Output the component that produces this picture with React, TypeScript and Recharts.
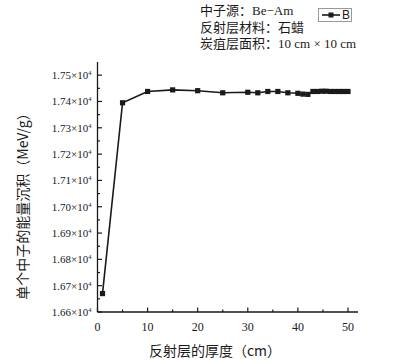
import React from 'react';
import { LineChart, Line, XAxis, YAxis } from 'recharts';

const thickness = [1, 5, 10, 15, 20, 25, 30, 32, 34, 36, 38, 40, 41, 42, 43, 43.9, 44.8, 45.6, 46.5, 47.4, 48.3, 49.1, 50];
const deposition = [1.667, 1.7395, 1.7438, 1.7444, 1.7441, 1.7433, 1.7435, 1.7433, 1.7438, 1.7438, 1.7433, 1.7431, 1.7428, 1.7427, 1.7438, 1.7438, 1.7439, 1.7439, 1.7438, 1.7438, 1.7438, 1.7438, 1.7438];
const xTicks = [0, 5, 10, 15, 20, 25, 30, 35, 40, 45, 50];
const yTicks = [1.66, 1.665, 1.67, 1.675, 1.68, 1.685, 1.69, 1.695, 1.70, 1.705, 1.71, 1.715, 1.72, 1.725, 1.73, 1.735, 1.74, 1.745, 1.75];
const seriesName = 'B';
const notes = ['中子源：Be−Am', '反射层材料：石蜡', '炭疽层面积：10 cm × 10 cm'];
const xTitle = '反射层的厚度（cm）';
const yTitle = '单个中子的能量沉积（MeV/g）';

const data = thickness.map((x, i) => ({ x, y: deposition[i] }));

const SERIF = '"Liberation Serif", "DejaVu Serif", "Noto Sans CJK SC", serif';
const CJK = '"Noto Sans CJK SC", "Liberation Serif", serif';
const INK = '#1a1a1a';

const SquareDot = (props: any) => {
  const { cx, cy } = props;
  if (cx == null || cy == null) return null;
  return <rect x={cx - 2.6} y={cy - 2.6} width={5.2} height={5.2} fill={INK} />;
};

const YTick = (props: any) => {
  const { x, y, payload } = props;
  const ax = x + 6;
  const v = payload.value as number;
  const major = Math.round(v * 1000) % 10 === 0;
  return (
    <g>
      <line x1={ax} x2={ax + (major ? 4.5 : 2.5)} y1={y} y2={y} stroke={INK} strokeWidth={1.2} />
      {major && (
        <text x={ax - 6} y={y} dy="0.35em" textAnchor="end" fontFamily={SERIF} fontSize={11} fill={INK}>
          {v.toFixed(2)}×10
          <tspan fontSize={6.5} dy={-4}>4</tspan>
        </text>
      )}
    </g>
  );
};

const XTick = (props: any) => {
  const { x, y, payload } = props;
  const ay = y - 10;
  const v = payload.value as number;
  const major = v % 10 === 0;
  return (
    <g>
      <line x1={x} x2={x} y1={ay} y2={ay - (major ? 4.5 : 2.5)} stroke={INK} strokeWidth={1.2} />
      {major && (
        <text x={x} y={y} dy="0.71em" textAnchor="middle" fontFamily={SERIF} fontSize={12} fill={INK}>
          {v}
        </text>
      )}
    </g>
  );
};

export default function App() {
  return (
    <div style={{ position: 'absolute', left: 0, top: 0, width: 404, height: 361, background: '#fff' }}>
      <LineChart width={404} height={361} data={data} margin={{ top: 62, right: 46, bottom: 0, left: 0 }}>
        <XAxis
          type="number"
          dataKey="x"
          domain={[0, 52]}
          ticks={xTicks}
          interval={0}
          height={49}
          tickSize={0}
          tickMargin={10}
          tick={<XTick />}
          axisLine={{ stroke: INK, strokeWidth: 1.3 }}
          tickLine={false}
        />
        <YAxis
          type="number"
          domain={[1.66, 1.755]}
          ticks={yTicks}
          interval={0}
          width={97.5}
          tickSize={0}
          tickMargin={6}
          tick={<YTick />}
          axisLine={{ stroke: INK, strokeWidth: 1.3 }}
          tickLine={false}
          allowDataOverflow
        />
        <Line
          type="linear"
          dataKey="y"
          name={seriesName}
          stroke={INK}
          strokeWidth={1.6}
          dot={<SquareDot />}
          activeDot={false}
          isAnimationActive={false}
        />
      </LineChart>

      {notes.map((t, i) => (
        <div
          key={i}
          style={{
            position: 'absolute',
            left: 200,
            top: 2 + i * 16.5,
            fontFamily: SERIF,
            fontSize: 13,
            lineHeight: '17px',
            color: INK,
            whiteSpace: 'nowrap',
          }}
        >
          {t}
        </div>
      ))}

      <div
        style={{
          position: 'absolute',
          left: 318,
          top: 8,
          width: 34,
          height: 14,
          border: '1px solid #999',
          boxSizing: 'border-box',
        }}
      >
        <svg width={34} height={14} style={{ position: 'absolute', left: -1, top: -1 }}>
          <line x1={4} x2={22} y1={7} y2={7} stroke={INK} strokeWidth={1.6} />
          <rect x={10.5} y={4.5} width={5} height={5} fill={INK} />
          <text x={24} y={7} dy="0.36em" fontFamily='"Liberation Sans", Arial, sans-serif' fontSize={12} fill={INK}>
            {seriesName}
          </text>
        </svg>
      </div>

      <div
        style={{
          position: 'absolute',
          left: 215,
          top: 350,
          transform: 'translate(-50%, -50%)',
          fontFamily: CJK,
          fontSize: 14,
          color: INK,
          whiteSpace: 'nowrap',
        }}
      >
        {xTitle}
      </div>

      <div
        style={{
          position: 'absolute',
          left: 22,
          top: 203,
          transform: 'translate(-50%, -50%) rotate(-90deg)',
          fontFamily: CJK,
          fontSize: 14,
          color: INK,
          whiteSpace: 'nowrap',
        }}
      >
        {yTitle}
      </div>
    </div>
  );
}
